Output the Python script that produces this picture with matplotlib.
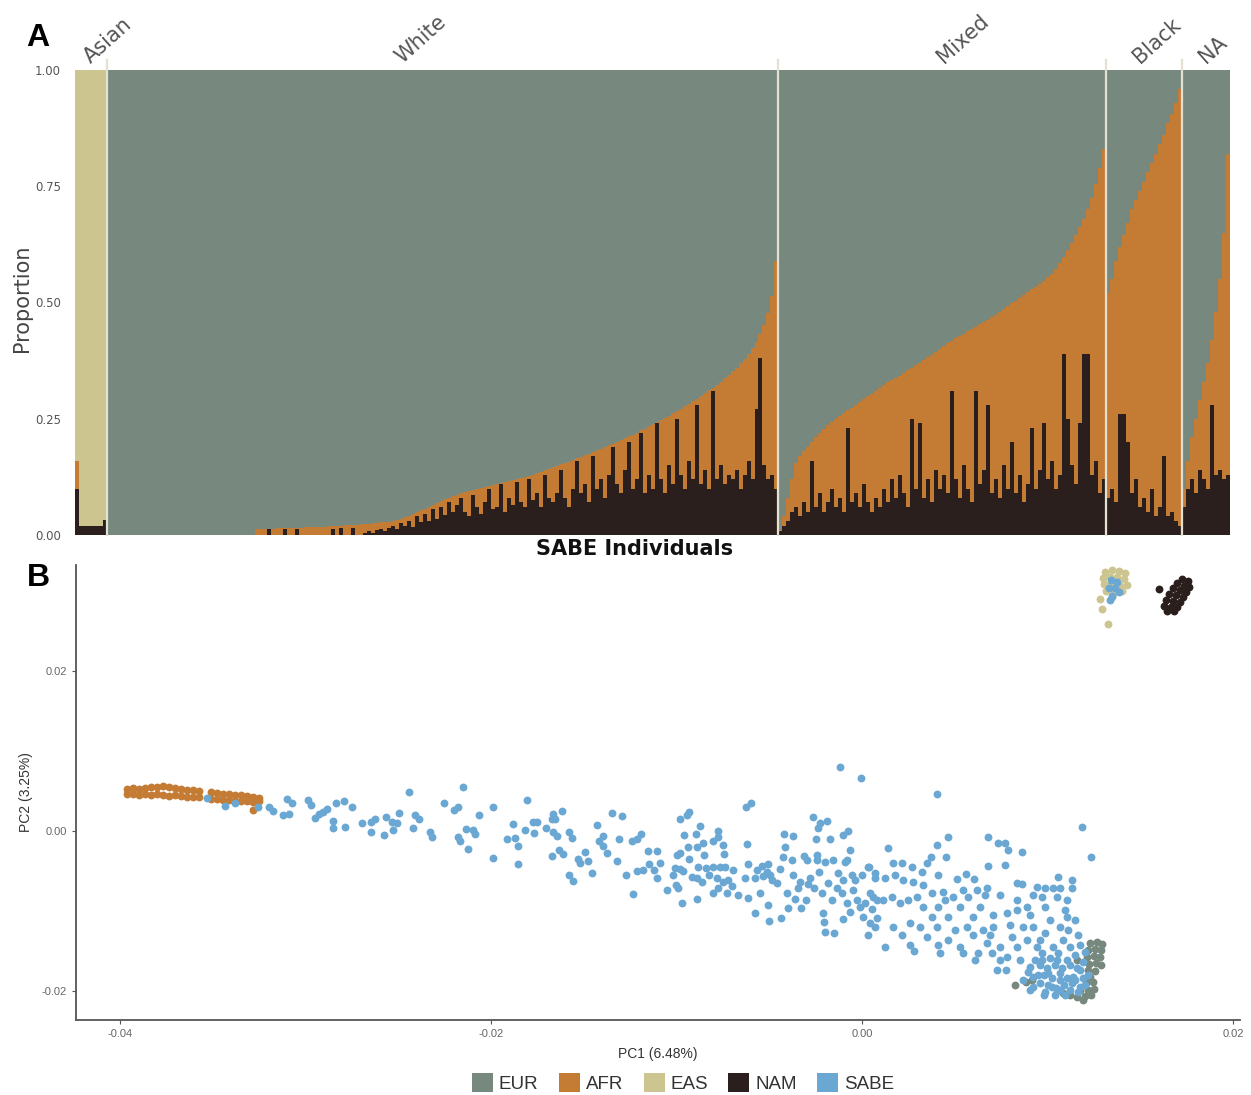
import numpy as np
import matplotlib
matplotlib.use("Agg")
import matplotlib.pyplot as plt
from matplotlib.patches import Patch

# ---------------- panel A : ancestry proportions per individual ----------------
groups = ["Asian", "White", "Mixed", "Black", "NA"]

asian_nam = [0.10, 0.02, 0.02, 0.02, 0.02, 0.02, 0.02, 0.032]
asian_afr = [0.06, 0.0, 0.0, 0.0, 0.0, 0.0, 0.0, 0.0]
asian_eas = [0.84, 0.98, 0.98, 0.98, 0.98, 0.98, 0.98, 0.968]

# non-European share (AFR + NAM) and NAM share, individuals sorted
white_non_eur = [
    0.0, 0.0, 0.0, 0.0, 0.0, 0.0, 0.0, 0.0, 0.0, 0.0, 0.0, 0.0, 0.0, 0.0, 0.0, 0.0,
    0.0, 0.0, 0.0, 0.0, 0.0, 0.0, 0.0, 0.0, 0.0, 0.0, 0.0, 0.0, 0.0, 0.0, 0.0, 0.0,
    0.0, 0.0, 0.0, 0.0, 0.0,
    0.013, 0.013, 0.014, 0.014, 0.014, 0.015, 0.015, 0.015, 0.015, 0.016, 0.016, 0.016,
    0.017, 0.017, 0.017, 0.018, 0.018, 0.018, 0.019, 0.019, 0.020, 0.020, 0.021, 0.021,
    0.022, 0.022, 0.023, 0.024, 0.024, 0.025, 0.026, 0.027, 0.028, 0.029, 0.031, 0.033, 0.035,
    0.038, 0.041, 0.045, 0.049, 0.053, 0.057, 0.061, 0.065, 0.069, 0.073, 0.077, 0.080,
    0.084, 0.087, 0.090,
    0.093, 0.095, 0.097, 0.100, 0.102, 0.104, 0.106, 0.108, 0.110, 0.112, 0.114, 0.116,
    0.118, 0.120, 0.122, 0.125, 0.127, 0.130, 0.133, 0.136, 0.139, 0.142,
    0.146, 0.149, 0.152, 0.155, 0.158, 0.162, 0.165, 0.168, 0.172, 0.175, 0.178, 0.182,
    0.185, 0.189, 0.193, 0.196, 0.200, 0.204, 0.208, 0.212, 0.216, 0.220, 0.225, 0.229, 0.234,
    0.238, 0.243, 0.247, 0.252, 0.257, 0.262, 0.267, 0.272, 0.277, 0.282, 0.288, 0.293,
    0.299, 0.305, 0.311, 0.317, 0.323, 0.330, 0.337, 0.344,
    0.352, 0.360, 0.369, 0.379, 0.390, 0.402, 0.416, 0.432, 0.452, 0.478, 0.515, 0.590]
white_nam = [
    0.0, 0.0, 0.0, 0.0, 0.0, 0.0, 0.0, 0.0, 0.0, 0.0, 0.0, 0.0, 0.0, 0.0, 0.0, 0.0,
    0.0, 0.0, 0.0, 0.0, 0.0, 0.0, 0.0, 0.0, 0.0, 0.0, 0.0, 0.0, 0.0, 0.0, 0.0, 0.0,
    0.0, 0.0, 0.0, 0.0, 0.0,
    0.0, 0.0, 0.0, 0.012, 0.0, 0.0, 0.0, 0.012, 0.0, 0.0, 0.013, 0.0, 0.0, 0.0, 0.0, 0.0,
    0.0, 0.0, 0.0, 0.014, 0.0, 0.015, 0.0, 0.0, 0.016, 0.0, 0.0, 0.005, 0.008, 0.004,
    0.010, 0.012, 0.008, 0.015, 0.020, 0.012, 0.025,
    0.020, 0.030, 0.018, 0.040, 0.028, 0.045, 0.030, 0.055, 0.035, 0.060, 0.042, 0.070,
    0.050, 0.065, 0.080,
    0.050, 0.040, 0.085, 0.060, 0.045, 0.070, 0.100, 0.055, 0.060, 0.110, 0.050, 0.080,
    0.065, 0.115, 0.070, 0.060, 0.120, 0.075, 0.090, 0.060, 0.130, 0.080,
    0.070, 0.090, 0.140, 0.080, 0.060, 0.100, 0.160, 0.090, 0.110, 0.070, 0.170, 0.100,
    0.120, 0.080, 0.130, 0.190, 0.110, 0.090, 0.140, 0.200, 0.100, 0.120, 0.220, 0.090, 0.130,
    0.100, 0.240, 0.120, 0.090, 0.150, 0.110, 0.250, 0.130, 0.100, 0.160, 0.120, 0.280,
    0.110, 0.140, 0.100, 0.310, 0.120, 0.150, 0.110, 0.130,
    0.120, 0.140, 0.100, 0.130, 0.160, 0.120, 0.270, 0.380, 0.150, 0.120, 0.130, 0.100]

mixed_non_eur = [
    0.010, 0.040, 0.080, 0.120, 0.155, 0.170, 0.180, 0.190, 0.200, 0.210,
    0.220, 0.228, 0.236, 0.243, 0.250, 0.256, 0.262, 0.268, 0.274, 0.280,
    0.286, 0.292, 0.298, 0.304, 0.310, 0.316, 0.322, 0.328, 0.333, 0.338,
    0.343, 0.348, 0.354, 0.360, 0.365, 0.370, 0.376, 0.382, 0.388, 0.394,
    0.400, 0.406, 0.412, 0.418, 0.423, 0.428, 0.433, 0.438, 0.443, 0.448,
    0.453, 0.458, 0.463, 0.468, 0.474, 0.480, 0.486, 0.492, 0.498, 0.504,
    0.510, 0.516, 0.522, 0.528, 0.534, 0.540, 0.547, 0.554, 0.562, 0.572,
    0.584, 0.598, 0.613, 0.628, 0.645, 0.662, 0.680, 0.700, 0.725, 0.755,
    0.790, 0.830]
mixed_nam = [
    0.008, 0.020, 0.030, 0.050, 0.060, 0.040, 0.070, 0.050, 0.160, 0.060,
    0.090, 0.050, 0.070, 0.100, 0.060, 0.080, 0.050, 0.230, 0.070, 0.090,
    0.060, 0.110, 0.070, 0.050, 0.080, 0.060, 0.100, 0.070, 0.120, 0.080,
    0.130, 0.090, 0.060, 0.250, 0.100, 0.240, 0.080, 0.120, 0.070, 0.140,
    0.100, 0.130, 0.090, 0.310, 0.120, 0.080, 0.150, 0.100, 0.070, 0.310,
    0.110, 0.140, 0.280, 0.090, 0.120, 0.080, 0.150, 0.100, 0.200, 0.090,
    0.130, 0.070, 0.110, 0.230, 0.100, 0.140, 0.240, 0.120, 0.160, 0.100,
    0.130, 0.390, 0.250, 0.150, 0.110, 0.240, 0.390, 0.390, 0.130, 0.160,
    0.090, 0.120]

black_non_eur = [0.52, 0.55, 0.59, 0.62, 0.645, 0.67, 0.70, 0.72, 0.74, 0.76,
                 0.78, 0.80, 0.82, 0.84, 0.86, 0.885, 0.905, 0.93, 0.96]
black_nam = [0.08, 0.10, 0.07, 0.26, 0.26, 0.20, 0.09, 0.12, 0.06, 0.08,
             0.05, 0.10, 0.04, 0.06, 0.17, 0.04, 0.05, 0.03, 0.02]

na_non_eur = [0.10, 0.16, 0.21, 0.25, 0.29, 0.33, 0.37, 0.42, 0.48, 0.55, 0.65, 0.82]
na_nam = [0.06, 0.10, 0.12, 0.09, 0.14, 0.12, 0.10, 0.28, 0.13, 0.14, 0.12, 0.13]

# ---------------- panel B : PCA (values in units of 1e-3) ----------------
afr_pts = [(-39.62, 5.25), (-39.62, 4.63), (-39.30, 5.38), (-39.30, 4.63), (-38.98, 5.25),
           (-38.98, 4.50), (-38.65, 5.38), (-38.65, 4.63), (-38.33, 5.50), (-38.33, 4.50),
           (-38.01, 5.50), (-38.01, 4.63), (-37.68, 5.63), (-37.68, 4.50), (-37.36, 5.50),
           (-37.36, 4.38), (-37.04, 5.38), (-37.04, 4.50), (-36.71, 5.25), (-36.71, 4.38),
           (-36.39, 5.13), (-36.39, 4.25), (-36.07, 5.13), (-36.07, 4.25), (-35.74, 5.00),
           (-35.74, 4.25), (-35.09, 4.88), (-35.09, 4.00), (-34.77, 4.75), (-34.77, 4.00),
           (-34.45, 4.63), (-34.45, 3.88), (-34.12, 4.63), (-34.12, 3.88), (-33.80, 4.50),
           (-33.80, 3.75), (-33.48, 4.50), (-33.48, 3.75), (-33.15, 4.38), (-33.15, 3.75),
           (-32.83, 4.25), (-32.83, 3.63), (-32.51, 4.13), (-32.51, 3.75), (-32.83, 2.63)]

eur_pts = [(12.29, -14.00), (12.67, -13.88), (12.94, -14.13), (12.18, -14.88), (12.56, -14.75),
           (12.88, -14.88), (12.13, -15.75), (12.51, -15.63), (12.83, -15.75), (12.24, -16.63),
           (12.61, -16.50), (12.88, -16.75), (12.18, -17.38), (12.56, -17.50), (12.29, -18.25),
           (12.08, -19.00), (12.45, -18.88), (11.75, -19.88), (12.18, -19.88), (12.51, -19.75),
           (11.21, -20.50), (11.59, -20.75), (12.02, -20.63), (12.34, -20.50), (10.84, -20.25),
           (11.59, -16.13), (8.25, -19.25), (8.84, -18.88), (9.16, -18.63), (11.91, -21.13)]

eas_pts = [(13.10, 32.38), (13.48, 32.63), (13.85, 32.50), (14.18, 32.25), (12.99, 31.63),
           (13.37, 31.75), (13.75, 31.75), (14.12, 31.50), (14.29, 30.75), (13.05, 30.88),
           (13.42, 30.88), (13.91, 30.63), (13.15, 30.00), (13.58, 29.88), (14.02, 30.00),
           (12.83, 29.00), (12.94, 27.75), (13.26, 25.88), (13.48, 29.25)]

nam_pts = [(17.25, 31.50), (17.57, 31.25), (16.98, 31.00), (17.36, 30.63), (17.63, 30.50),
           (16.77, 30.38), (17.14, 30.13), (17.47, 29.88), (16.55, 29.63), (16.93, 29.50),
           (17.30, 29.25), (16.39, 28.88), (16.77, 28.75), (17.14, 28.63), (16.28, 28.13),
           (16.66, 28.00), (16.98, 28.00), (16.44, 27.50), (16.82, 27.50), (16.01, 30.25)]

sabe_pts = [
    # near the African reference and the left part of the cline
    (-35.33, 4.09), (-34.32, 3.16), (-33.80, 3.46), (-32.54, 2.96), (-31.95, 2.96),
    (-31.74, 2.50), (-31.20, 2.00), (-30.89, 2.09), (-31.01, 3.96), (-30.73, 3.54),
    (-29.87, 3.88), (-29.70, 3.21), (-29.49, 1.59), (-29.26, 2.09), (-29.07, 2.34),
    (-28.82, 2.79), (-28.36, 3.54), (-27.94, 3.75), (-27.48, 2.96), (-28.50, 1.25),
    (-28.53, 0.41), (-27.87, 0.54), (-26.94, 1.00), (-26.47, 1.12), (-26.25, 1.50),
    (-26.47, -0.09), (-25.77, -0.50), (-25.66, 1.71), (-25.35, 1.16), (-25.05, 1.04),
    (-24.98, 2.21), (-25.30, 0.09), (-24.42, 4.91), (-24.10, 2.00), (-23.88, 1.46),
    (-24.19, 0.34), (-23.29, -0.09), (-23.20, -0.71), (-22.52, 3.54), (-21.99, 2.63),
    (-21.80, 3.04), (-21.49, 5.54), (-21.76, -0.79), (-21.67, -1.29), (-21.35, 0.21),
    (-20.95, 0.13), (-20.85, -0.38), (-21.24, -2.29), (-20.66, 2.00), (-19.91, 2.96),
    (-19.88, -3.41), (-19.15, -1.00), (-18.83, 0.88), (-18.71, -0.84), (-18.53, -1.88),
    (-18.53, -4.16), (-18.18, 0.13), (-18.04, 3.88), (-17.72, 1.09), (-17.50, 1.09),
    (-17.68, -0.29), (-17.04, 0.34), (-16.67, 2.13), (-16.73, 1.46), (-16.55, 1.46),
    (-16.19, 2.54), (-16.64, -0.09), (-16.46, -0.63), (-16.32, -2.38), (-16.73, -3.13),
    (-16.10, -2.88), (-15.80, -0.09), (-15.80, -5.50),
    # middle of the cline
    (-15.65, -0.84), (-15.60, -6.21), (-15.29, -3.54), (-15.20, -3.96), (-14.93, -2.66),
    (-14.75, -3.71), (-14.57, -5.21), (-14.30, 0.75), (-14.16, -1.21), (-13.98, -0.63),
    (-13.98, -1.88), (-13.73, -2.71), (-13.49, 2.21), (-13.19, -3.71), (-13.08, -1.04),
    (-12.95, 1.88), (-12.72, -5.50), (-12.42, -1.25), (-12.15, -1.00), (-11.91, -0.38),
    (-12.33, -7.91), (-12.11, -5.00), (-11.79, -4.88), (-11.52, -2.46), (-11.07, -2.46),
    (-11.48, -4.13), (-11.21, -4.88), (-11.07, -5.91), (-10.89, -3.96), (-10.53, -7.38),
    (-10.17, -5.50), (-10.08, -4.66), (-9.99, -3.00), (-9.81, -2.79), (-9.81, 1.46),
    (-9.45, 2.00), (-9.31, 2.41), (-9.60, -0.50), (-9.40, -2.04), (-9.34, -3.50),
    (-9.81, -4.75), (-9.63, -5.00), (-9.90, -7.16), (-10.03, -6.75), (-9.72, -9.04),
    (-9.18, -5.71), (-8.96, -0.38), (-8.91, -2.04), (-8.73, 0.66), (-8.56, -1.46),
    (-8.52, -3.04), (-8.82, -4.46), (-8.91, -5.91), (-8.64, -6.34), (-8.91, -8.54),
    (-8.41, -4.66), (-8.23, -5.50), (-8.05, -1.25), (-7.78, 0.04), (-7.75, -0.79),
    (-8.02, -4.54), (-7.83, -5.91), (-8.05, -7.79), (-7.75, -7.09), (-7.48, -1.75),
    (-7.44, -2.88), (-7.65, -4.46), (-7.39, -4.46), (-7.48, -6.34), (-7.21, -6.13),
    (-7.29, -7.79), (-7.02, -6.88), (-6.94, -4.88), (-6.67, -8.00), (-6.25, 2.96),
    (-5.98, 3.46), (-6.22, -1.63), (-6.13, -4.13), (-6.31, -5.91), (-6.13, -8.41),
    (-5.77, -5.91), (-5.68, -4.88), (-5.77, -10.29), (-5.41, -4.38), (-5.35, -5.63),
    (-5.50, -7.79), (-5.14, -5.09), (-5.05, -4.13), (-4.96, -5.50), (-5.05, -9.25),
    (-5.00, -11.21), (-4.84, -6.13), (-4.57, -6.46), (-4.42, -4.75), (-4.38, -10.91),
    (-4.20, -0.38), (-4.15, -2.04), (-4.24, -3.21), (-4.06, -7.79), (-3.97, -9.66),
    (-3.70, -0.63), (-3.79, -3.63), (-3.70, -5.50), (-3.61, -8.54), (-3.47, -7.16),
    (-3.34, -6.34), (-3.30, -9.66), (-3.11, -3.09), (-2.98, -3.63), (-2.89, -6.63),
    (-2.80, -5.91), (-3.02, -8.63), (-2.63, 1.79), (-2.48, -1.04), (-2.36, 0.34),
    (-2.26, 1.04), (-2.44, -3.00), (-2.44, -3.63), (-2.59, -7.16), (-2.30, -5.09),
    (-2.17, -7.71), (-2.09, -10.29), (-1.90, 1.29), (-1.73, -1.00), (-1.99, -3.84),
    (-1.85, -6.54), (-1.63, -8.63), (-2.03, -11.34), (-1.99, -12.59), (-1.55, -3.63),
    (-1.28, -5.29), (-1.36, -7.16), (-1.49, -12.79), (-1.19, 7.96), (-1.04, -0.50),
    (-0.74, 0.04), (-0.92, -3.84), (-0.82, -3.63), (-0.65, -2.38), (-1.01, -6.13),
    (-1.09, -7.79), (-0.82, -9.04), (-1.04, -11.04), (-0.47, -7.38), (-0.38, -6.13),
    (-0.56, -5.50), (-0.65, -10.09), (-0.29, -8.63), (-0.05, 6.66), (-0.02, -5.50),
    (-0.11, -9.46), (0.07, -10.71), (0.34, -4.54), (0.43, -7.79), (0.52, -9.79),
    (0.34, -13.00), (0.70, -11.96), (0.70, -5.91), (0.79, -8.63),
    # right part of the cline, towards the European reference
    (4.06, 4.63), (11.84, 0.54), (12.34, -3.21), (1.42, -2.16), (4.62, -0.71),
    (4.06, -1.75), (3.70, -3.21), (4.53, -3.21), (6.79, -0.71), (7.32, -1.54),
    (7.71, -1.46), (7.89, -2.38), (8.63, -2.59), (6.79, -4.38), (7.69, -4.25),
    (0.39, -4.46), (1.69, -4.04), (2.14, -3.96), (2.68, -4.54), (3.49, -4.04),
    (3.22, -5.09), (4.08, -5.50), (5.11, -6.04), (5.61, -5.38), (6.05, -5.96),
    (0.70, -5.29), (1.24, -5.91), (1.78, -5.50), (2.23, -6.13), (2.77, -6.34),
    (3.30, -6.75), (3.76, -7.79), (4.38, -7.59), (4.47, -8.63), (4.92, -8.21),
    (5.46, -7.38), (5.73, -8.21), (6.18, -7.38), (6.72, -7.16), (6.63, -8.00),
    (7.44, -8.00), (8.34, -6.54), (8.61, -6.63), (9.42, -6.96), (9.87, -7.16),
    (10.28, -7.16), (10.67, -7.16), (11.30, -7.16), (10.58, -5.79), (11.30, -6.13),
    (9.23, -8.00), (9.69, -8.21), (10.50, -8.21), (11.04, -8.63), (8.34, -8.63),
    (8.88, -9.46), (9.87, -9.46), (10.94, -9.88), (8.34, -9.88), (7.80, -10.29),
    (7.08, -10.50), (6.36, -9.46), (6.00, -10.71), (5.28, -9.46), (4.65, -10.71),
    (4.11, -9.46), (3.76, -10.71), (3.30, -9.46), (2.95, -8.21), (2.50, -8.63),
    (2.05, -9.04), (1.60, -8.21), (1.15, -8.63), (0.61, -8.21), (0.16, -9.04),
    (0.43, -11.54), (0.79, -10.91), (1.24, -14.46), (1.69, -11.96), (2.14, -13.00),
    (2.59, -11.54), (2.59, -14.25), (2.80, -14.96), (3.13, -11.96), (3.49, -13.21),
    (4.03, -11.96), (4.11, -14.25), (4.20, -15.29), (4.65, -13.63), (5.01, -12.38),
    (5.28, -14.46), (5.46, -15.29), (5.64, -11.96), (6.00, -13.00), (6.09, -16.13),
    (6.27, -15.29), (6.54, -12.38), (6.72, -14.04), (6.99, -15.29), (7.08, -11.96),
    (7.26, -17.38), (7.44, -14.46), (7.76, -17.38), (7.80, -15.71), (8.07, -13.21),
    (8.34, -14.46), (8.52, -16.13), (8.70, -11.96), (8.88, -13.63), (9.06, -16.96),
    (9.23, -11.96), (9.42, -14.46), (9.69, -16.13), (9.87, -12.79), (10.04, -17.79),
    (10.31, -14.46), (10.50, -16.13), (10.67, -11.96), (10.85, -13.63), (11.04, -10.71),
    (11.12, -12.38), (10.67, -17.79), (11.04, -16.13), (11.21, -14.46), (11.39, -18.21),
    (11.75, -17.38), (10.23, -19.46), (9.60, -19.04), (9.23, -18.21), (10.67, -19.88),
    (11.21, -19.88), (11.75, -19.46), (9.87, -20.09), (9.23, -19.46), (8.70, -18.63),
    (9.06, -19.88),
    # dense core next to EUR
    (9.60, -16.75), (9.97, -17.13), (10.40, -16.75), (10.78, -17.13), (11.21, -16.75),
    (11.59, -17.13), (9.81, -18.00), (10.24, -18.38), (10.67, -18.63), (11.05, -18.38),
    (11.48, -18.63), (11.91, -18.38), (10.03, -19.25), (10.46, -19.63), (10.89, -19.25),
    (11.32, -19.00), (11.64, -20.13), (10.94, -20.50), (10.40, -20.50), (12.02, -19.25),
    (12.18, -18.00), (10.13, -15.88), (10.57, -15.25), (11.48, -15.50), (11.91, -16.38),
    (9.70, -15.25), (9.33, -16.13), (8.95, -17.63), (9.49, -18.00), (9.81, -20.50),
    (9.06, -10.50), (10.13, -11.13), (11.48, -11.13), (7.98, -11.75), (9.60, -13.63),
    (11.75, -14.25), (7.44, -16.13), (6.90, -13.00), (11.64, -13.00), (12.02, -15.13),
    # inside the East Asian reference cluster
    (13.42, 31.38), (13.75, 31.13), (13.32, 30.38), (13.64, 30.38), (13.85, 29.88),
    (13.48, 29.38), (13.37, 28.88)]

pop_labels = ["EUR", "AFR", "EAS", "NAM", "SABE"]
pop_colors = ["#77897f", "#c47c35", "#ccc58f", "#2a1f1d", "#6aa7d3"]

# ---------------- assemble stacked proportions ----------------
non_eur = [white_non_eur, mixed_non_eur, black_non_eur, na_non_eur]
nam_lists = [white_nam, mixed_nam, black_nam, na_nam]

nam = np.concatenate([asian_nam] + nam_lists)
afr = np.concatenate([asian_afr] + [np.array(a) - np.array(b) for a, b in zip(non_eur, nam_lists)])
eas = np.concatenate([asian_eas] + [np.zeros(len(a)) for a in non_eur])
eur = 1 - nam - afr - eas
sizes = [len(asian_nam)] + [len(a) for a in nam_lists]
xpos = np.arange(len(nam))

fig = plt.figure(figsize=(12.51, 10.95), dpi=100)

axA = fig.add_axes([0.0600, 0.5114, 0.9233, 0.4247])
bar_kw = dict(width=1.0, linewidth=0, antialiased=False)
axA.bar(xpos, nam, color=pop_colors[3], **bar_kw)
axA.bar(xpos, afr, bottom=nam, color=pop_colors[1], **bar_kw)
axA.bar(xpos, eas, bottom=nam + afr, color=pop_colors[2], **bar_kw)
axA.bar(xpos, eur, bottom=nam + afr + eas, color=pop_colors[0], **bar_kw)
axA.set_xlim(-0.5, len(nam) - 0.5)
axA.set_ylim(0, 1)
for s in axA.spines.values():
    s.set_visible(False)
axA.set_xticks([])
axA.set_yticks([0, 0.25, 0.5, 0.75, 1.0])
axA.set_yticklabels(["0.00", "0.25", "0.50", "0.75", "1.00"])
axA.tick_params(axis="y", length=0, pad=10, labelsize=8.5, labelcolor="#555555")
fig.text(22 / 1251, 1 - 298 / 1095, "Proportion", rotation=90, ha="center", va="center",
         fontsize=15, color="#444444")

edges = np.cumsum(sizes)
starts = np.concatenate([[0], edges[:-1]])
label_shift = [0.0, -10.0, 0.5, -1.0, 0.0]
for e in edges[:-1]:
    axA.plot([e - 0.5, e - 0.5], [0, 1.022], color="#e4e0d2", lw=1.6, clip_on=False, zorder=5)
for g, s0, e, sh in zip(groups, starts, edges, label_shift):
    mid = (s0 + e - 1) / 2.0
    axA.text(mid + sh, 1.012, g, rotation=42, rotation_mode="anchor", ha="left", va="baseline",
             fontsize=15, color="#555555")

fig.text(0.5076, 0.4986, "SABE Individuals", ha="center", va="center", fontsize=15,
         fontweight="bold", color="#111111")
fig.text(0.0304, 0.9653, "A", ha="center", va="center", fontsize=23, fontweight="bold",
         family="Liberation Sans")
fig.text(0.0304, 0.4721, "B", ha="center", va="center", fontsize=23, fontweight="bold",
         family="Liberation Sans")

# ---------------- panel B ----------------
axB = fig.add_axes([0.0607, 0.0685, 0.9305, 0.4155])
all_pts = [eur_pts, afr_pts, eas_pts, nam_pts, sabe_pts]
for pts, c in zip(all_pts, pop_colors):
    p = np.array(pts) / 1000.0
    axB.scatter(p[:, 0], p[:, 1], s=32, color=c, linewidths=0, zorder=3)

axB.set_xlim(-0.04237, 0.02038)
axB.set_ylim(-0.02363, 0.03325)
axB.set_xticks([-0.04, -0.02, 0.0, 0.02])
axB.set_xticklabels(["-0.04", "-0.02", "0.00", "0.02"])
axB.set_yticks([-0.02, 0.0, 0.02])
axB.set_yticklabels(["-0.02", "0.00", "0.02"])
for side in ["top", "right"]:
    axB.spines[side].set_visible(False)
for side in ["left", "bottom"]:
    axB.spines[side].set_color("#555555")
    axB.spines[side].set_linewidth(1.3)
axB.tick_params(length=3, width=0.8, color="#555555", labelsize=8, labelcolor="#666666")
for lab in axB.get_xticklabels() + axB.get_yticklabels():
    lab.set_family("Liberation Sans")
axB.set_xlabel("PC1 (6.48%)", fontsize=10, color="#333333", family="Liberation Sans", labelpad=6)
axB.set_ylabel("PC2 (3.25%)", fontsize=10, color="#333333", family="Liberation Sans", labelpad=6)

handles = [Patch(facecolor=c, edgecolor="none", label=l) for l, c in zip(pop_labels, pop_colors)]
fig.legend(handles=handles, loc="center", bbox_to_anchor=(683 / 1251, 1 - 1083 / 1095), ncol=5,
           frameon=False, handlelength=1.12, handleheight=1.12, handletextpad=0.3,
           columnspacing=1.1, prop={"family": "Liberation Sans", "size": 13.5},
           labelcolor="#333333")

fig.savefig("out.png", dpi=100)
